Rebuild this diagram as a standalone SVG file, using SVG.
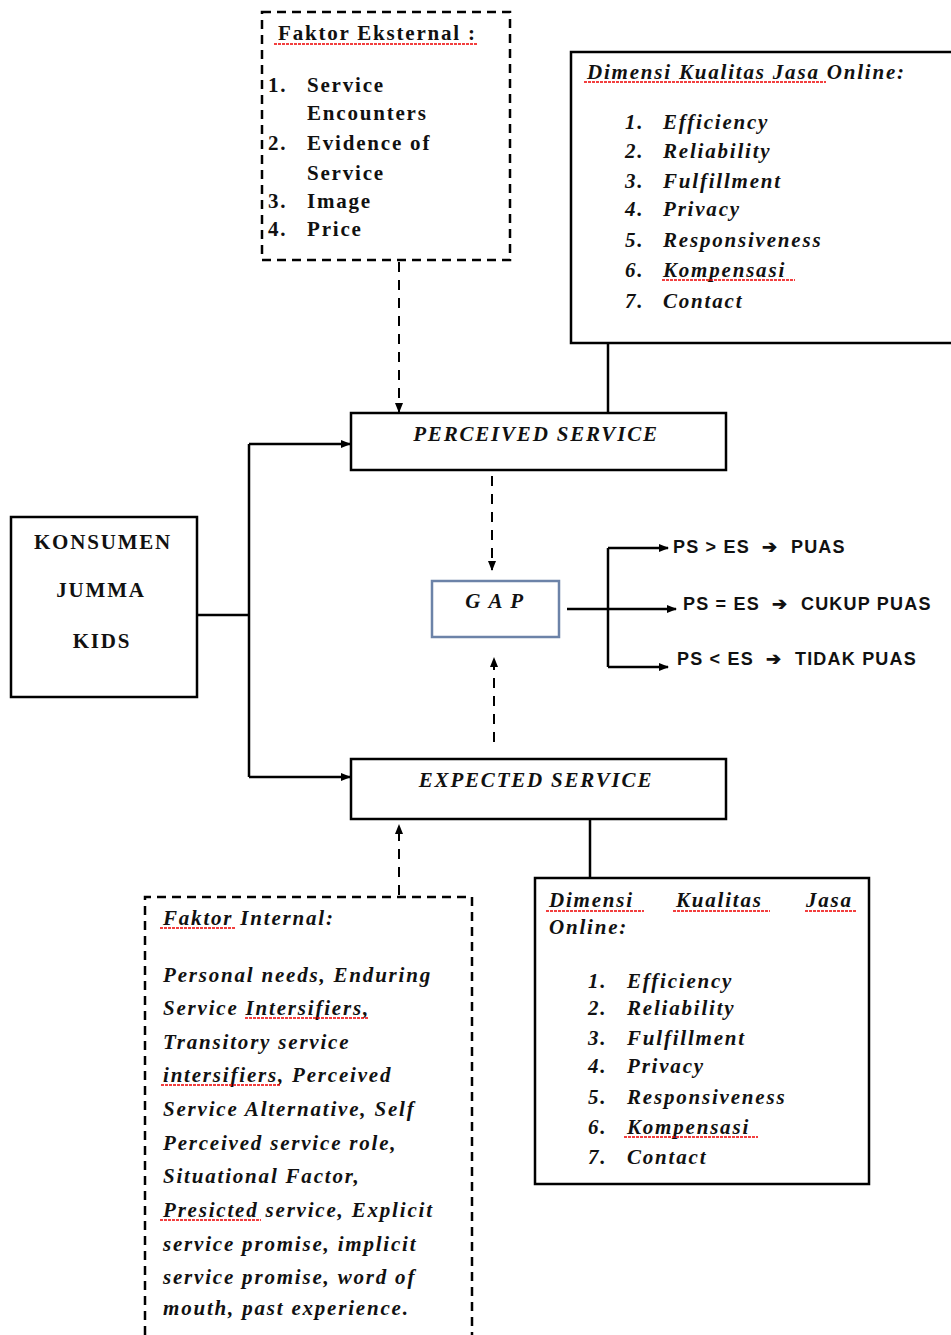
<svg xmlns="http://www.w3.org/2000/svg" width="951" height="1335" viewBox="0 0 951 1335">
<defs>
<marker id="ah" viewBox="0 0 10 10" refX="9" refY="5" markerWidth="10" markerHeight="10" orient="auto-start-reverse" markerUnits="userSpaceOnUse">
<path d="M0,1 L10,5 L0,9 Z" fill="#000"/>
</marker>
<style>
.box{fill:#fff;stroke:#000;stroke-width:2.5}
.dbox{fill:#fff;stroke:#000;stroke-width:2.5;stroke-dasharray:9,6}
.gap{fill:#fff;stroke:#6c83a8;stroke-width:2.5}
.ln{fill:none;stroke:#000;stroke-width:2.5}
.dl{fill:none;stroke:#000;stroke-width:2;stroke-dasharray:10,8}
.t{font-family:"Liberation Serif","Times New Roman",serif;font-weight:bold;font-size:21px;letter-spacing:1.8px;fill:#111}
.ti{font-family:"Liberation Serif","Times New Roman",serif;font-weight:bold;font-style:italic;font-size:21px;letter-spacing:1.8px;fill:#111}
.s{font-family:"Liberation Sans",Arial,sans-serif;font-weight:bold;font-size:18px;letter-spacing:1.2px;fill:#111;white-space:pre}
.sq{fill:none;stroke:#e00;stroke-width:1.5;stroke-dasharray:3,1}
</style>
</defs>
<rect width="951" height="1335" fill="#fff"/>

<g id="connectors">
<path class="dl" d="M399,262 L399,412" marker-end="url(#ah)"/>
<path class="ln" d="M608,343 L608,413"/>
<path class="ln" d="M197,615 L249,615 M249,444 L249,777"/>
<path class="ln" d="M249,444 L350,444" marker-end="url(#ah)"/>
<path class="ln" d="M249,777 L350,777" marker-end="url(#ah)"/>
<path class="dl" d="M492,476 L492,570" marker-end="url(#ah)"/>
<path class="dl" d="M494,742 L494,658" marker-end="url(#ah)"/>
<path class="ln" d="M567,609 L676,609" marker-end="url(#ah)"/>
<path class="ln" d="M608,548 L608,667"/>
<path class="ln" d="M608,548 L668,548" marker-end="url(#ah)"/>
<path class="ln" d="M608,667 L668,667" marker-end="url(#ah)"/>
<path class="ln" d="M590,819 L590,879"/>
<path class="dl" d="M399,895 L399,825" marker-end="url(#ah)"/>
</g>

<g id="faktor-eksternal">
<rect class="dbox" x="262" y="12" width="248" height="248"/>
<text class="t" x="278" y="40">Faktor Eksternal :</text>
<path class="sq" d="M274,44 L478,44"/>
<text class="t" x="268" y="92">1.</text><text class="t" x="307" y="92">Service</text>
<text class="t" x="307" y="120">Encounters</text>
<text class="t" x="268" y="150">2.</text><text class="t" x="307" y="150">Evidence of</text>
<text class="t" x="307" y="180">Service</text>
<text class="t" x="268" y="208">3.</text><text class="t" x="307" y="208">Image</text>
<text class="t" x="268" y="236">4.</text><text class="t" x="307" y="236">Price</text>
</g>

<g id="dimensi-atas">
<rect class="box" x="571" y="52" width="390" height="291"/>
<text class="ti" x="587" y="79">Dimensi Kualitas Jasa Online:</text>
<path class="sq" d="M584,82 L826,82"/>
<text class="ti" x="625" y="129">1.</text><text class="ti" x="663" y="129">Efficiency</text>
<text class="ti" x="625" y="158">2.</text><text class="ti" x="663" y="158">Reliability</text>
<text class="ti" x="625" y="188">3.</text><text class="ti" x="663" y="188">Fulfillment</text>
<text class="ti" x="625" y="216">4.</text><text class="ti" x="663" y="216">Privacy</text>
<text class="ti" x="625" y="247">5.</text><text class="ti" x="663" y="247">Responsiveness</text>
<text class="ti" x="625" y="277">6.</text><text class="ti" x="663" y="277">Kompensasi</text>
<path class="sq" d="M662,280 L795,280"/>
<text class="ti" x="625" y="308">7.</text><text class="ti" x="663" y="308">Contact</text>
</g>

<g id="perceived-service">
<rect class="box" x="351" y="413" width="375" height="57"/>
<text class="ti" x="536" y="441" text-anchor="middle">PERCEIVED SERVICE</text>
</g>

<g id="konsumen">
<rect class="box" x="11" y="517" width="186" height="180"/>
<text class="t" x="103" y="549" text-anchor="middle">KONSUMEN</text>
<text class="t" x="101" y="597" text-anchor="middle">JUMMA</text>
<text class="t" x="102" y="648" text-anchor="middle">KIDS</text>
</g>

<g id="gap">
<rect class="gap" x="432" y="581" width="127" height="56"/>
<text class="ti" x="495" y="608" text-anchor="middle">G A P</text>
</g>

<g id="hasil">
<text class="s" x="673" y="553">PS &gt; ES  ➔  PUAS</text>
<text class="s" x="683" y="610">PS = ES  ➔  CUKUP PUAS</text>
<text class="s" x="677" y="665">PS &lt; ES  ➔  TIDAK PUAS</text>
</g>

<g id="expected-service">
<rect class="box" x="351" y="759" width="375" height="60"/>
<text class="ti" x="536" y="787" text-anchor="middle">EXPECTED SERVICE</text>
</g>

<g id="faktor-internal">
<path class="dbox" d="M145,1335 L145,897 L472,897 L472,1335"/>
<text class="ti" x="163" y="925">Faktor Internal:</text>
<path class="sq" d="M160,928 L236,928"/>
<text class="ti" x="163" y="982">Personal needs, Enduring</text>
<text class="ti" x="163" y="1015">Service Intersifiers,</text>
<path class="sq" d="M245,1018 L368,1018"/>
<text class="ti" x="163" y="1049">Transitory service</text>
<text class="ti" x="163" y="1082">intersifiers, Perceived</text>
<path class="sq" d="M161,1085 L280,1085"/>
<text class="ti" x="163" y="1116">Service Alternative, Self</text>
<text class="ti" x="163" y="1150">Perceived service role,</text>
<text class="ti" x="163" y="1183">Situational Factor,</text>
<text class="ti" x="163" y="1217">Presicted service, Explicit</text>
<path class="sq" d="M160,1220 L261,1220"/>
<text class="ti" x="163" y="1251">service promise, implicit</text>
<text class="ti" x="163" y="1284">service promise, word of</text>
<text class="ti" x="163" y="1315">mouth, past experience.</text>
</g>

<g id="dimensi-bawah">
<rect class="box" x="535" y="878" width="334" height="306"/>
<text class="ti" x="549" y="907">Dimensi</text>
<text class="ti" x="676" y="907">Kualitas</text>
<text class="ti" x="806" y="907">Jasa</text>
<path class="sq" d="M546,911 L644,911 M673,911 L770,911 M805,911 L856,911"/>
<text class="ti" x="549" y="934">Online:</text>
<text class="ti" x="588" y="988">1.</text><text class="ti" x="627" y="988">Efficiency</text>
<text class="ti" x="588" y="1015">2.</text><text class="ti" x="627" y="1015">Reliability</text>
<text class="ti" x="588" y="1045">3.</text><text class="ti" x="627" y="1045">Fulfillment</text>
<text class="ti" x="588" y="1073">4.</text><text class="ti" x="627" y="1073">Privacy</text>
<text class="ti" x="588" y="1104">5.</text><text class="ti" x="627" y="1104">Responsiveness</text>
<text class="ti" x="588" y="1134">6.</text><text class="ti" x="627" y="1134">Kompensasi</text>
<path class="sq" d="M624,1137 L758,1137"/>
<text class="ti" x="588" y="1164">7.</text><text class="ti" x="627" y="1164">Contact</text>
</g>
</svg>
